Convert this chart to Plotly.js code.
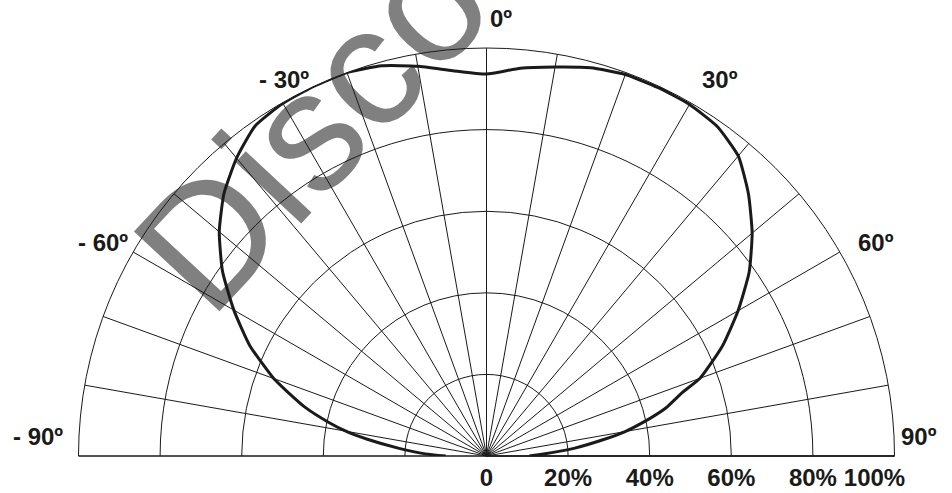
<!DOCTYPE html>
<html>
<head>
<meta charset="utf-8">
<script src="https://cdn.plot.ly/plotly-3.0.1.min.js"></script>
<style>
html,body{margin:0;padding:0;background:#ffffff;}
#chart{width:952px;height:493px;}
</style>
</head>
<body>
<div id="chart"></div>
<script>
// Angle (degrees) of each reading of the light distribution curve
const angles = [-90,-88,-85,-82,-80,-78,-75,-72,-70,-65,-60,-55,-50,-45,-40,-35,-30,-25,-20,-15,-10,-5,0,
                5,10,15,20,25,30,35,40,45,50,55,60,65,70,72,75,78,80,82,85,88,90];
// Relative intensity (%) at each angle
const intensity = [10,15,21.5,29.5,35,39.5,46,51.5,55.5,64,71.5,79,85.5,91,95.3,98.8,99.8,100,100,99,97,94.8,93.6,
                   95.4,96.8,98.5,99.5,99.6,99.5,98.6,96,90.8,85,78.6,71.2,63.8,55.7,50.5,45.5,39,34.5,29,21.5,14,10.5];

// Angular grid (every 10°) and its labels (every 30°)
const angleTicks = [-90,-80,-70,-60,-50,-40,-30,-20,-10,0,10,20,30,40,50,60,70,80,90];
const angleLabelValues = [-90,-60,-30,0,30,60,90];
const angleLabelTexts = ["- 90º","- 60º","- 30º","0º","30º","60º","90º"];

// Radial grid and its labels
const radialTicks = [0,20,40,60,80,100];
const radialLabels = ["0","20%","40%","60%","80%","100%\u00A0\u00A0\u00A0\u00A0\u00A0\u00A0"];

const watermark = "Disco";

const W = 952, H = 493;
// polar geometry (pixels): centre and radius of the half disc
const CX = 486.5, CY = 456, R = 408;
const labelFont = {family: "Liberation Sans, Arial, sans-serif", size: 24, color: "#1a1a1a", weight: "bold"};

const trace = {
  type: "scatterpolar",
  mode: "lines",
  theta: angles,
  r: intensity,
  line: {color: "#1a1a1a", width: 3, shape: "spline", smoothing: 0.5},
  hoverinfo: "skip",
  showlegend: false
};

// angular labels placed just outside the outer arc, at their tick angle
function angLabel(theta, text) {
  const rad = theta * Math.PI / 180;
  const gap = 10;
  let px = CX + (R + gap) * Math.sin(rad);
  let py = CY - (R + gap) * Math.cos(rad);
  let xanchor = "center", yanchor = "bottom";
  if (theta > 0) { xanchor = "left"; }
  if (theta < 0) { xanchor = "right"; }
  if (Math.abs(theta) === 90) { py -= 4; px += theta > 0 ? -6 : -4; }
  else if (Math.abs(theta) === 60) { yanchor = "middle"; py -= 4; px += theta > 0 ? 8 : 5; }
  else if (Math.abs(theta) === 30) { py += 1; px += theta > 0 ? 4 : 33; }
  else { px += 14; py -= 4; }
  return {
    xref: "paper", yref: "paper", x: px / W, y: 1 - py / H,
    xanchor: xanchor, yanchor: yanchor, showarrow: false,
    text: text, font: labelFont
  };
}

const layout = {
  width: W, height: H,
  margin: {l: 0, r: 0, t: 0, b: 0},
  paper_bgcolor: "#ffffff",
  showlegend: false,
  polar: {
    domain: {x: [(CX - R) / W, (CX + R) / W], y: [(H - CY) / H, (H - CY + R) / H]},
    sector: [0, 180],
    bgcolor: "rgba(0,0,0,0)",
    angularaxis: {
      rotation: 90,
      direction: "clockwise",
      tickmode: "array",
      tickvals: angleTicks,
      showticklabels: false,
      ticks: "",
      showgrid: true,
      gridcolor: "#1a1a1a",
      gridwidth: 1,
      showline: true,
      linecolor: "#1a1a1a",
      linewidth: 1
    },
    radialaxis: {
      range: [0, 100],
      angle: 0,
      side: "clockwise",
      tickangle: 0,
      tickmode: "array",
      tickvals: radialTicks,
      ticktext: radialLabels,
      ticks: "",
      showgrid: true,
      gridcolor: "#1a1a1a",
      gridwidth: 1,
      showline: true,
      linecolor: "#1a1a1a",
      linewidth: 1.5,
      tickfont: labelFont
    }
  },
  annotations: angleLabelValues.map((t, i) => angLabel(t, angleLabelTexts[i])),
  shapes: [{
    type: "rect", xref: "paper", yref: "paper",
    x0: 295 / W, x1: 305 / W, y0: 1 - 120 / H, y1: 1 - 110 / H,
    line: {width: 0}, fillcolor: "rgba(0,0,0,0)", layer: "below",
    label: {
      text: watermark,
      textangle: -47,
      textposition: "middle center",
      font: {family: "Liberation Sans, Arial, sans-serif", size: 170, color: "#808080"}
    }
  }]
};

Plotly.newPlot("chart", [trace], layout, {staticPlot: true, displayModeBar: false});
</script>
</body>
</html>
